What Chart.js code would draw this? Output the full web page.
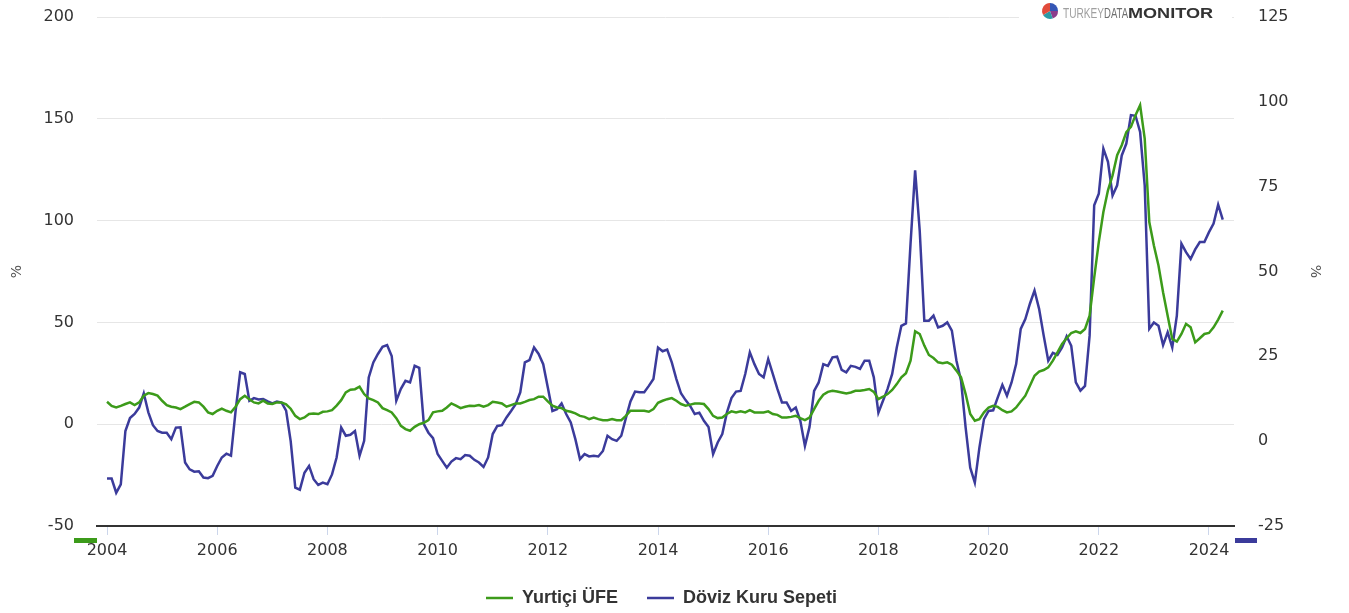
<!DOCTYPE html>
<html>
<head>
<meta charset="utf-8">
<script src="https://cdn.jsdelivr.net/npm/chart.js@4.4.1/dist/chart.umd.min.js"></script>
<style>
  body { margin: 0; background: #fff; }
  #wrap { width: 1349px; height: 613px; }
</style>
</head>
<body>
<div id="wrap"><canvas id="mychart" width="1349" height="613"></canvas></div>
<script>
// monthly series, Jan 2004 .. Apr 2024 (annual % change)
const startYear = 2004;
const seriesNames = ['Yurtiçi ÜFE', 'Döviz Kuru Sepeti'];

const ufe = [
  11.0, 9.0, 8.2, 9.0, 9.9, 10.7, 9.4, 10.7, 14.0, 15.3, 14.8, 14.0,
  11.5, 9.4, 8.6, 8.2, 7.4, 8.6, 9.9, 11.0, 10.7, 8.6, 5.8, 5.0,
  6.6, 7.7, 6.6, 5.8, 8.6, 12.3, 14.0, 12.3, 10.7, 10.2, 11.5, 10.2,
  9.9, 10.7, 10.7, 9.8, 7.6, 4.1, 2.5, 3.3, 5.0, 5.3, 5.0, 6.1,
  6.3, 6.9, 9.1, 11.8, 15.6, 16.9, 17.2, 18.4, 14.8, 12.7, 11.8, 10.7,
  7.9, 6.9, 5.8, 3.0, -0.8, -2.4, -3.2, -1.3, 0.0, 0.7, 2.0, 5.8,
  6.3, 6.6, 8.2, 10.2, 9.1, 7.9, 8.6, 9.1, 9.0, 9.4, 8.6, 9.4,
  11.0, 10.7, 10.2, 8.6, 9.4, 10.2, 10.2, 11.0, 11.9, 12.3, 13.5, 13.5,
  11.2, 9.1, 8.2, 7.9, 6.6, 6.1, 5.3, 4.1, 3.6, 2.5, 3.3, 2.5,
  2.0, 2.0, 2.5, 2.0, 2.0, 4.1, 6.6, 6.6, 6.6, 6.6, 6.1, 7.4,
  10.5, 11.5, 12.3, 12.8, 11.5, 9.9, 9.1, 9.6, 10.2, 10.2, 9.9, 7.4,
  4.1, 3.0, 3.3, 5.0, 6.3, 5.8, 6.3, 5.8, 6.9, 5.8, 5.8, 5.8,
  6.3, 5.0, 4.6, 3.3, 3.3, 3.6, 4.1, 3.0, 2.0, 3.3, 7.4, 11.5,
  14.5, 15.9, 16.4, 16.1, 15.6, 15.1, 15.6, 16.4, 16.4, 16.8, 17.3, 15.9,
  12.3, 13.5, 14.8, 16.8, 19.7, 23.0, 25.0, 31.2, 45.6, 44.3, 38.6, 34.0,
  32.5, 30.4, 29.9, 30.4, 29.2, 26.3, 23.0, 14.8, 5.0, 1.7, 2.5, 5.8,
  8.2, 9.0, 8.5, 6.9, 5.8, 6.3, 8.2, 11.2, 14.0, 18.9, 23.8, 25.8,
  26.6, 27.9, 31.2, 35.3, 39.4, 42.2, 44.8, 45.6, 44.8, 46.8, 53.3, 72.0,
  89.4, 104.2, 114.9, 122.2, 132.1, 137.0, 143.5, 146.0, 151.8, 156.7, 140.3, 99.3,
  87.8, 77.9, 64.8, 53.3, 41.9, 40.6, 44.3, 49.3, 47.6, 40.2, 42.2, 44.3,
  44.8, 47.6, 51.4, 55.8
];

const doviz = [
  -11.0, -11.0, -15.2, -12.7, 3.0, 6.8, 8.0, 9.9, 14.1, 8.5, 4.7, 3.0,
  2.5, 2.5, 0.6, 4.0, 4.1, -6.3, -8.3, -9.0, -8.9, -10.7, -10.9, -10.2,
  -7.3, -4.8, -3.7, -4.3, 8.9, 20.3, 19.8, 11.9, 12.7, 12.3, 12.4, 11.7,
  11.1, 11.7, 11.4, 9.0, 0.0, -13.7, -14.3, -9.3, -7.3, -11.2, -12.9, -12.2,
  -12.7, -9.8, -4.8, 4.0, 1.6, 1.9, 3.0, -4.3, 0.1, 18.8, 23.2, 25.7,
  27.8, 28.3, 25.1, 11.9, 15.4, 17.8, 17.3, 22.2, 21.6, 5.0, 2.5, 0.9,
  -3.8, -5.8, -7.8, -6.0, -5.0, -5.3, -4.1, -4.3, -5.5, -6.3, -7.6, -4.8,
  2.1, 4.5, 4.7, 7.0, 8.9, 10.9, 14.4, 23.2, 23.9, 27.6, 25.7, 22.7,
  15.8, 8.9, 9.4, 11.1, 8.0, 5.5, 0.6, -5.3, -3.8, -4.5, -4.3, -4.5,
  -2.9, 1.6, 0.6, 0.1, 1.6, 6.8, 11.7, 14.6, 14.4, 14.4, 16.3, 18.3,
  27.6, 26.5, 27.0, 23.2, 18.3, 14.1, 12.1, 10.4, 8.0, 8.4, 6.0, 4.2,
  -3.8, -0.4, 2.1, 8.4, 12.7, 14.6, 14.8, 19.8, 26.2, 22.7, 19.8, 18.8,
  24.2, 19.8, 15.4, 11.4, 11.4, 8.9, 9.9, 6.0, -1.4, 4.2, 14.8, 17.3,
  22.7, 22.2, 24.7, 24.9, 21.0, 20.3, 22.2, 21.9, 21.3, 23.7, 23.7, 18.8,
  8.4, 11.9, 15.4, 19.8, 27.6, 34.0, 34.7, 58.2, 79.8, 62.0, 35.5, 35.5,
  37.0, 33.5, 34.0, 35.0, 32.6, 23.7, 17.8, 4.0, -7.8, -12.2, -1.9, 6.5,
  8.9, 9.1, 12.9, 16.6, 13.4, 17.3, 22.7, 33.1, 36.0, 40.5, 44.4, 39.0,
  31.1, 23.7, 26.0, 25.4, 27.6, 30.9, 28.1, 17.3, 14.9, 16.3, 31.1, 69.5,
  72.9, 86.2, 82.3, 72.4, 75.4, 84.2, 87.7, 96.1, 95.9, 91.1, 75.4, 33.1,
  35.0, 34.0, 28.3, 32.1, 27.6, 37.0, 58.2, 55.7, 53.7, 56.5, 58.7, 58.7,
  61.6, 64.1, 69.7, 65.3
];

// axis ranges: [min, max, step]
const leftAxis = [-50, 200, 50];
const rightAxis = [-25, 125, 25];
const yearSpan = [2003.818, 2024.454, 2];

const green = '#3c9b1a';
const blue = '#3b3b9b';
const tickFont = { family: 'DejaVu Sans', size: 16 };
const clear = 'rgba(0,0,0,0)';

function toPoints(arr) {
  return arr.map((v, i) => ({ x: startYear + i / 12, y: v }));
}

function fitText(c, text, x, y, w) {
  const m = c.measureText(text).width;
  c.save();
  c.translate(x, y);
  c.scale(w / m, 1);
  c.fillText(text, 0, 0);
  c.restore();
}

const extras = {
  id: 'extras',
  afterDraw(chart) {
    const c = chart.ctx;
    const a = chart.chartArea;
    c.save();
    // axis colour markers
    c.fillStyle = green;
    c.fillRect(a.left - 23, a.bottom + 12, 23, 5);
    c.fillStyle = blue;
    c.fillRect(a.right + 1, a.bottom + 12, 22, 5);
    // logo
    c.fillStyle = '#fff';
    c.fillRect(1019, 0, 213, 28);
    const cx = 1050, cy = 11, r = 8;
    const wedges = [[-90, 0, '#3556b5'], [0, 70, '#8c3d8c'], [70, 150, '#2a9aa5'], [150, 270, '#e14b3b']];
    wedges.forEach(w => {
      c.beginPath();
      c.moveTo(cx, cy);
      c.arc(cx, cy, r, w[0] * Math.PI / 180, w[1] * Math.PI / 180);
      c.closePath();
      c.fillStyle = w[2];
      c.fill();
    });
    c.textBaseline = 'alphabetic';
    c.textAlign = 'left';
    c.font = '14px "Liberation Sans"';
    c.fillStyle = '#a0a0a0';
    fitText(c, 'TURKEY', 1063, 17.5, 41);
    c.fillStyle = '#6f6f6f';
    fitText(c, 'DATA', 1104, 17.5, 24);
    c.font = 'bold 14px "Liberation Sans"';
    c.fillStyle = '#333';
    fitText(c, 'MONITOR', 1128, 17.5, 85);
    c.restore();
  }
};

const ctx = document.getElementById('mychart');
const mychart = new Chart(ctx, {
  type: 'line',
  data: {
    datasets: [
      {
        label: seriesNames[0],
        data: toPoints(ufe),
        borderColor: green,
        backgroundColor: green,
        borderWidth: 2.5,
        pointRadius: 0,
        tension: 0,
        yAxisID: 'yLeft'
      },
      {
        label: seriesNames[1],
        data: toPoints(doviz),
        borderColor: blue,
        backgroundColor: blue,
        borderWidth: 2.5,
        pointRadius: 0,
        tension: 0,
        yAxisID: 'yRight'
      }
    ]
  },
  options: {
    responsive: false,
    animation: false,
    devicePixelRatio: 1,
    layout: { padding: { top: 17, left: 0, right: 26, bottom: -4 } },
    plugins: {
      tooltip: { enabled: false },
      legend: {
        position: 'bottom',
        labels: {
          usePointStyle: true,
          pointStyle: 'line',
          pointStyleWidth: 27,
          padding: 29,
          color: '#333',
          font: { family: 'Liberation Sans', size: 18, weight: 'bold' }
        }
      }
    },
    scales: {
      x: {
        type: 'linear',
        min: yearSpan[0],
        max: yearSpan[1],
        afterFit(scale) { scale.height = 34; },
        border: { display: true, color: '#333', width: 2 },
        grid: { drawOnChartArea: false, drawTicks: true, tickLength: 9, color: '#ccd6eb', lineWidth: 1 },
        ticks: {
          stepSize: yearSpan[2],
          includeBounds: false,
          maxRotation: 0,
          autoSkip: false,
          padding: 6,
          color: '#333',
          font: tickFont,
          callback: v => String(v)
        }
      },
      yLeft: {
        type: 'linear',
        position: 'left',
        min: leftAxis[0],
        max: leftAxis[1],
        afterFit(scale) { scale.width = 97; },
        border: { display: false },
        grid: { color: '#e6e6e6', lineWidth: 1, drawTicks: true, tickLength: 23, tickColor: clear },
        ticks: { stepSize: leftAxis[2], padding: 0, color: '#333', font: tickFont },
        title: { display: true, text: '%', color: '#555', font: { family: 'DejaVu Sans', size: 14 }, padding: { top: 9, bottom: 0 } }
      },
      yRight: {
        type: 'linear',
        position: 'right',
        min: rightAxis[0],
        max: rightAxis[1],
        afterFit(scale) { scale.width = 89; },
        border: { display: false },
        grid: { drawOnChartArea: false, drawTicks: true, tickLength: 24, tickColor: clear },
        ticks: { stepSize: rightAxis[2], padding: 0, color: '#333', font: tickFont },
        title: { display: true, text: '%', color: '#555', font: { family: 'DejaVu Sans', size: 14 }, padding: { top: 0, bottom: 0 } }
      }
    }
  },
  plugins: [extras]
});
</script>
</body>
</html>
